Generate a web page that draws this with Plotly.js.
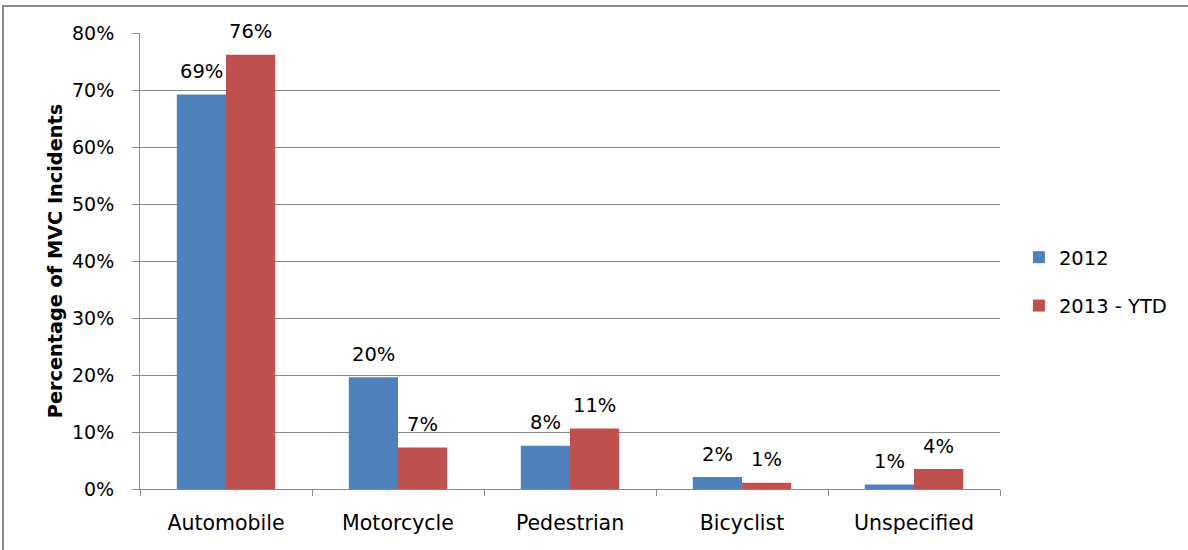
<!DOCTYPE html>
<html>
<head>
<meta charset="utf-8">
<script src="https://cdn.plot.ly/plotly-3.0.1.min.js"></script>
<style>
  html, body { margin: 0; padding: 0; background: #fff; overflow: hidden; }
  #chart { width: 1188px; height: 550px; position: absolute; left: 0; top: 0; }
  #frame { position: absolute; left: 2px; top: 5px; width: 1300px; height: 700px;
           border: 2px solid #8a8a8a; pointer-events: none; }
</style>
</head>
<body>
<div id="chart"></div>
<div id="frame"></div>
<script>
// ---- data ----
const categories = ["Automobile", "Motorcycle", "Pedestrian", "Bicyclist", "Unspecified"];
const seriesNames = ["2012", "2013 - YTD"];
const values2012 = [0.692, 0.196, 0.076, 0.021, 0.008];
const values2013 = [0.762, 0.073, 0.106, 0.011, 0.035];
const yTickVals = [0, 0.1, 0.2, 0.3, 0.4, 0.5, 0.6, 0.7, 0.8];
const yAxisTitle = "Percentage of MVC Incidents";

// ---- style ----
const FONT = "DejaVu Sans, sans-serif";
const colors = ["#4F81BD", "#C0504D"];
const gridColor = "#8a8a8a";

const plotLeft = 140, plotRight = 1000, plotTop = 33, plotBottom = 489;
const W = 1188, H = 550;
const bargap = 0.428;
const catW = (plotRight - plotLeft) / categories.length;
const barW = catW * (1 - bargap) / 2;

const seriesValues = [values2012, values2013];
const traces = seriesValues.map((vals, i) => ({
  type: "bar",
  name: seriesNames[i],
  x: categories,
  y: vals,
  marker: { color: colors[i] },
  legendgroup: "g" + i,
  hoverinfo: "x+y+name"
}));

// data labels (rounded percent) above each bar, placed via the axes
const annotations = [];
seriesValues.forEach((vals, i) => {
  vals.forEach((v, j) => {
    annotations.push({
      x: categories[j], y: v, xref: "x", yref: "y",
      text: Math.round(v * 100) + "%",
      showarrow: false,
      xshift: (i === 0 ? -1 : 1) * barW / 2,
      yshift: 23,
      font: { family: FONT, size: 19.5, color: "#000" },
      yanchor: "middle", xanchor: "center"
    });
  });
});

const layout = {
  width: W, height: H,
  margin: { l: plotLeft, r: W - plotRight, t: plotTop, b: H - plotBottom, pad: 0 },
  paper_bgcolor: "#fff", plot_bgcolor: "#fff",
  barmode: "group", bargap: bargap, bargroupgap: 0,
  showlegend: true,
  legend: {
    x: 1.022, xanchor: "left", y: 0.455, yanchor: "middle",
    font: { family: FONT, size: 19.5, color: "#000" },
    tracegroupgap: 20, traceorder: "grouped",
    itemwidth: 30,
    bgcolor: "rgba(0,0,0,0)"
  },
  xaxis: {
    type: "category",
    showgrid: false, showline: true, linecolor: gridColor, linewidth: 1,
    ticks: "outside", tickson: "boundaries", ticklen: 6, tickcolor: gridColor,
    tickfont: { family: FONT, size: 20.5, color: "#000" },
    ticklabelstandoff: 15,
    zeroline: false, fixedrange: true
  },
  yaxis: {
    range: [0, 0.8], tickvals: yTickVals, tickformat: ".0%",
    showgrid: true, gridcolor: gridColor, gridwidth: 1,
    showline: true, linecolor: gridColor, linewidth: 1,
    ticks: "outside", ticklen: 7, tickcolor: gridColor,
    tickfont: { family: FONT, size: 19, color: "#000" },
    ticklabelstandoff: 14,
    zeroline: false, fixedrange: true,
    title: { text: yAxisTitle, font: { family: FONT, size: 19.3, color: "#000", weight: "bold" }, standoff: 4 }
  },
  annotations: annotations
};

Plotly.newPlot("chart", traces, layout, { displayModeBar: false, staticPlot: true });
</script>
</body>
</html>
